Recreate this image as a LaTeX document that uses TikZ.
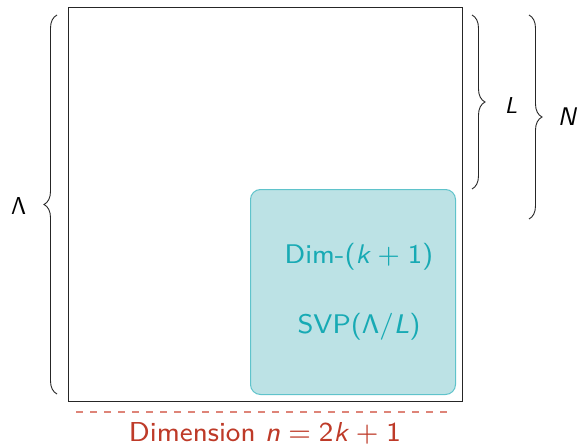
\documentclass[tikz,border=0pt]{standalone}
\usetikzlibrary{decorations.pathreplacing}
\renewcommand\familydefault{\sfdefault}
\DeclareMathAlphabet{\mathsfit}{TU}{lmss}{m}{sl}
\DeclareMathAlphabet{\mathsfup}{TU}{lmss}{m}{n}
\DeclareMathAlphabet{\mathsfgr}{OT1}{cmss}{m}{n}
\definecolor{tealtext}{RGB}{23,170,180}
\definecolor{tealfill}{RGB}{188,226,229}
\definecolor{tealdraw}{RGB}{95,195,203}
\definecolor{redtext}{RGB}{190,58,40}
\definecolor{reddash}{RGB}{222,132,120}
\tikzset{
  bracestyle/.style={decorate,decoration={brace,amplitude=13pt},line width=0.9pt,draw=black!85},
  lbl/.style={inner sep=0pt,text=black},
  smallfont/.style={font=\fontsize{8}{9.6}\selectfont},
  tealtxt/.style={inner sep=0pt,anchor=base,text=tealtext,smallfont,scale=3.37},
}
\begin{document}
\begin{tikzpicture}[x=1pt,y=-1pt]
\useasboundingbox (0,0) rectangle (579,447);
\node[draw=black!85,line width=1.2pt,minimum width=394pt,minimum height=394pt,inner sep=0pt,anchor=north west] (outer) at (68,7) {};
\node[draw=tealdraw,fill=tealfill,line width=1pt,rounded corners=10pt,minimum width=205pt,minimum height=205pt,inner sep=0pt,anchor=north west] (box) at (250,189) {};
\node[tealtxt] (dim) at (359,263) {Dim-($\mathsfit{k}\mskip1mu+\mskip1mu\mathsfup{1}$)};
\node[tealtxt] (svp) at (359,333) {SVP($\mathsfgr{\Lambda}/\mathsfit{L}$)};
\coordinate (lb1) at (57,394);
\coordinate (lt1) at (57,15);
\draw[bracestyle] (lb1) -- (lt1);
\node[lbl,scale=2.45] (lam) at (18.5,205.5) {$\mathsfgr{\Lambda}$};
\coordinate (rt1) at (472,15);
\coordinate (rb1) at (472,189);
\draw[bracestyle] (rt1) -- (rb1);
\node[lbl,scale=2.3] (ll) at (511,106) {$\mathsfit{L}$};
\coordinate (rt2) at (529,15);
\coordinate (rb2) at (529,219);
\draw[bracestyle] (rt2) -- (rb2);
\node[lbl,scale=2.55] (nn) at (567,117) {$\mathsfit{N}$};
\coordinate (d1) at (76,412);
\coordinate (d2) at (451,412);
\draw[reddash,line width=1.4pt,dash pattern=on 7pt off 7pt] (d1) -- (d2);
\node[inner sep=0pt,anchor=base,text=redtext,smallfont,scale=3.42] (dimn) at (265,441.5) {Dimension $\mathsfit{n}=\mathsfup{2}\mathsfit{k}\mskip1mu+\mskip1mu\mathsfup{1}$};
\end{tikzpicture}
\end{document}
